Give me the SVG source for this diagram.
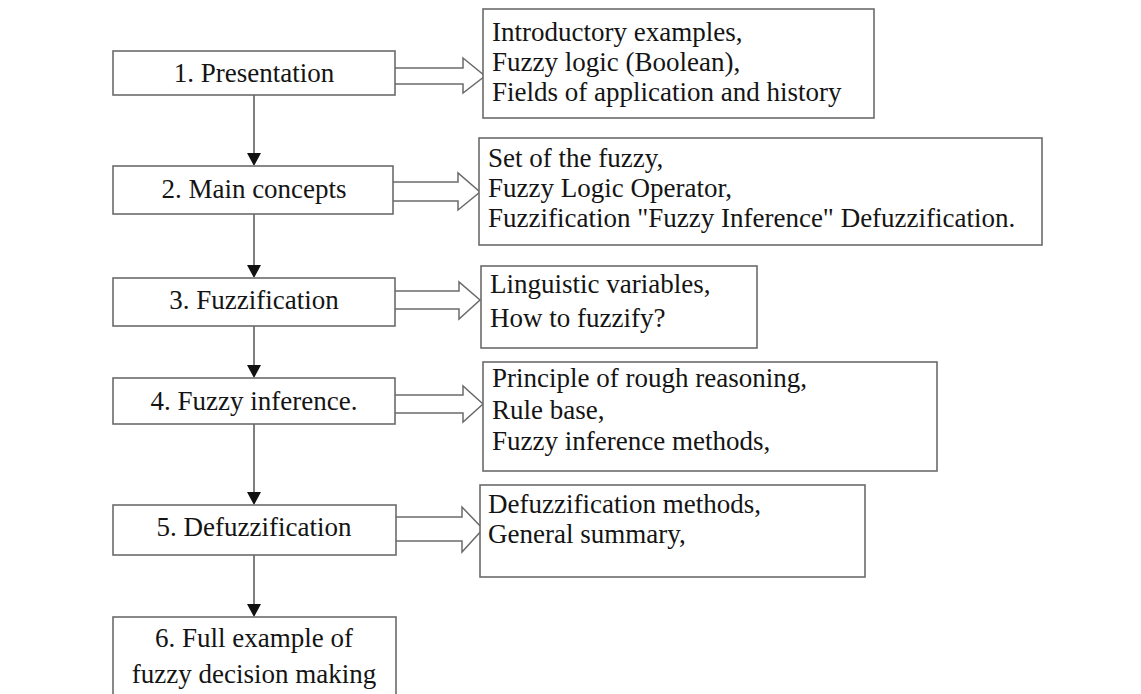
<svg xmlns="http://www.w3.org/2000/svg" width="1141" height="694" viewBox="0 0 1141 694">
<style>
  .box { fill: #ffffff; stroke: #6b6b6b; stroke-width: 1.6; }
  .t { font-family: "Liberation Serif", "Times New Roman", serif; font-size: 27px; fill: #141414; }
  .c { text-anchor: middle; }
  .line { stroke: #555555; stroke-width: 1.5; fill: none; }
  .block { fill: #ffffff; stroke: #6b6b6b; stroke-width: 1.5; stroke-linejoin: miter; }
</style>
<defs>
  <marker id="tri" viewBox="0 0 14 12" refX="7" refY="12" markerWidth="14" markerHeight="12" markerUnits="userSpaceOnUse" orient="auto-start-reverse">
    <path d="M0,0 L14,0 L7,12 Z" fill="#111111"/>
  </marker>
</defs>
<rect width="1141" height="694" fill="#ffffff"/>

<g id="connectors">
  <line class="line" x1="254" y1="95" x2="254" y2="154"/>
  <path d="M247,153 L261,153 L254,166 Z" fill="#111"/>
  <line class="line" x1="254" y1="214" x2="254" y2="266"/>
  <path d="M247,265 L261,265 L254,278 Z" fill="#111"/>
  <line class="line" x1="254" y1="326" x2="254" y2="366"/>
  <path d="M247,365 L261,365 L254,378 Z" fill="#111"/>
  <line class="line" x1="254" y1="424" x2="254" y2="493"/>
  <path d="M247,492 L261,492 L254,505 Z" fill="#111"/>
  <line class="line" x1="254" y1="555" x2="254" y2="605"/>
  <path d="M247,604 L261,604 L254,617 Z" fill="#111"/>

  <path class="block" d="M395,68 L463,68 L463,58 L485,76 L463,93 L463,84 L395,84"/>
  <path class="block" d="M393,182 L458,182 L458,173 L480,192 L458,210 L458,201 L393,201"/>
  <path class="block" d="M395,291 L459,291 L459,282 L480,300 L459,319 L459,309 L395,309"/>
  <path class="block" d="M395,395 L463,395 L463,386 L483,404 L463,422 L463,413 L395,413"/>
  <path class="block" d="M396,517 L462,517 L462,507 L483,529 L462,552 L462,541 L396,541"/>
</g>

<g id="n1">
  <rect class="box" x="113" y="51" width="282" height="44"/>
  <text class="t c" x="254" y="82">1. Presentation</text>
</g>
<g id="n2">
  <rect class="box" x="113" y="166" width="280" height="48"/>
  <text class="t c" x="254" y="198">2. Main concepts</text>
</g>
<g id="n3">
  <rect class="box" x="113" y="278" width="282" height="48"/>
  <text class="t c" x="254" y="309">3. Fuzzification</text>
</g>
<g id="n4">
  <rect class="box" x="113" y="378" width="282" height="46"/>
  <text class="t c" x="254" y="410">4. Fuzzy inference.</text>
</g>
<g id="n5">
  <rect class="box" x="113" y="505" width="283" height="50"/>
  <text class="t c" x="254" y="536">5. Defuzzification</text>
</g>
<g id="n6">
  <rect class="box" x="113" y="617" width="283" height="90"/>
  <text class="t c" x="254" y="647">6. Full example of</text>
  <text class="t c" x="254" y="683">fuzzy decision making</text>
</g>

<g id="d1">
  <rect class="box" x="483" y="9" width="391" height="109"/>
  <text class="t" x="492" y="41">Introductory examples,</text>
  <text class="t" x="492" y="71">Fuzzy logic (Boolean),</text>
  <text class="t" x="492" y="101">Fields of application and history</text>
</g>
<g id="d2">
  <rect class="box" x="479" y="138" width="563" height="107"/>
  <text class="t" x="488" y="167">Set of the fuzzy,</text>
  <text class="t" x="488" y="197">Fuzzy Logic Operator,</text>
  <text class="t" x="488" y="227">Fuzzification "Fuzzy Inference" Defuzzification.</text>
</g>
<g id="d3">
  <rect class="box" x="481" y="266" width="276" height="82"/>
  <text class="t" x="490" y="293">Linguistic variables,</text>
  <text class="t" x="490" y="327">How to fuzzify?</text>
</g>
<g id="d4">
  <rect class="box" x="483" y="362" width="454" height="109"/>
  <text class="t" x="492" y="387">Principle of rough reasoning,</text>
  <text class="t" x="492" y="419">Rule base,</text>
  <text class="t" x="492" y="450">Fuzzy inference methods,</text>
</g>
<g id="d5">
  <rect class="box" x="480" y="485" width="385" height="92"/>
  <text class="t" x="488" y="513">Defuzzification methods,</text>
  <text class="t" x="488" y="543">General summary,</text>
</g>
</svg>
